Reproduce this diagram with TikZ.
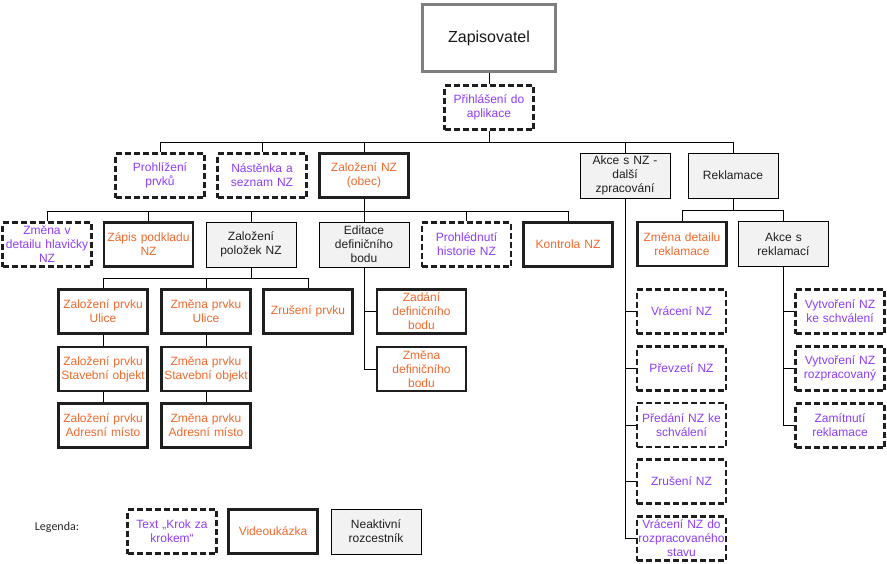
\documentclass[tikz,border=0pt]{standalone}
\usepackage{fontspec}
\setmainfont{Liberation Sans}
\newfontfamily\legfont{Carlito}
\definecolor{purp}{HTML}{8E3DF8}
\definecolor{orng}{HTML}{F0692C}
\definecolor{grayf}{HTML}{F2F2F2}
\definecolor{dashc}{HTML}{1E1E1E}
\definecolor{topc}{HTML}{7F7F7F}
\begin{document}
\begin{tikzpicture}[x=1pt,y=-1pt,
  base/.style={inner sep=0pt, minimum width=89pt, minimum height=44pt, align=center,
    text width=89pt, font=\fontsize{12}{14}\selectfont},
  txtbox/.style={base, draw=dashc, line width=2.2pt, dash pattern=on 6pt off 3pt, text=purp},
  vidbox/.style={base, draw=black!88, line width=2.2pt, text=orng},
  navbox/.style={base, draw=black, line width=1pt, fill=grayf, minimum width=90pt, minimum height=45pt, text=black!88},
  topbox/.style={inner sep=0pt, minimum width=133pt, minimum height=67pt, align=center,
    draw=topc, line width=3pt, font=\fontsize{16}{19}\selectfont, text=black!90},
  conn/.style={draw=black, line width=1pt}]
\useasboundingbox (0,0) rectangle (887,563);
\fill[white] (0,0) rectangle (887,563);

% top
\node[topbox] (zap) at (489,38) {Zapisovatel};
\node[txtbox] (prihl) at (489,107.5) {Přihlášení do\\aplikace};

% row 1
\node[txtbox] (prohl) at (160,175.5) {Prohlížení\\prvků};
\node[txtbox] (nast) at (262,175.5) {Nástěnka a\\seznam NZ};
\node[vidbox] (zalnz) at (364,175.5) {Založení NZ\\(obec)};
\node[navbox] (akce) at (625,175.5) {Akce s NZ -\\další\\zpracování};
\node[navbox] (reklam) at (733,175.5) {Reklamace};

% row 2
\node[txtbox] (zmenav) at (47,244.5) {Změna v\\detailu hlavičky\\NZ};
\node[vidbox] (zapis) at (148.5,244.5) {Zápis podkladu\\NZ};
\node[navbox] (zalpol) at (251,244.5) {Založení\\položek NZ};
\node[navbox] (editace) at (364,244.5) {Editace\\definičního\\bodu};
\node[txtbox] (prohled) at (466.5,244.5) {Prohlédnutí\\historie NZ};
\node[vidbox] (kontrola) at (568,244.5) {Kontrola NZ};
\node[vidbox] (zmdetr) at (682,244) {Změna detailu\\reklamace};
\node[navbox] (akcer) at (783.5,244) {Akce s\\reklamací};

% row 3
\node[vidbox] (zpu) at (103,311.5) {Založení prvku\\Ulice};
\node[vidbox] (zmu) at (206,311.5) {Změna prvku\\Ulice};
\node[vidbox] (zrus) at (308,311.5) {Zrušení prvku};
\node[vidbox] (zadani) at (421.5,311.5) {Zadání\\definičního\\bodu};
\node[txtbox] (vraceni) at (681.5,311.5) {Vrácení NZ};
\node[txtbox] (vytv1) at (840,311.5) {Vytvoření NZ\\ke schválení};

% row 4
\node[vidbox] (zps) at (103,369) {Založení prvku\\Stavební objekt};
\node[vidbox] (zms) at (206,369) {Změna prvku\\Stavební objekt};
\node[vidbox] (zmdb) at (421.5,369) {Změna\\definičního\\bodu};
\node[txtbox] (prevzeti) at (681.5,368.5) {Převzetí NZ};
\node[txtbox] (vytv2) at (840,368.5) {Vytvoření NZ\\rozpracovaný};

% row 5
\node[vidbox] (zpa) at (103,425.5) {Založení prvku\\Adresní místo};
\node[vidbox] (zma) at (206,425.5) {Změna prvku\\Adresní místo};
\node[txtbox] (predani) at (681.5,425) {Předání NZ ke\\schválení};
\node[txtbox] (zamit) at (840,425.5) {Zamítnutí\\reklamace};

% rows 6-7
\node[txtbox] (zrusnz) at (681.5,481.5) {Zrušení NZ};
\node[txtbox] (vracr) at (681.5,538.5) {Vrácení NZ do\\rozpracovaného\\stavu};

% legend
\node[font=\legfont\fontsize{12}{14}\selectfont, text=black!85, inner sep=0pt] (legl) at (57,527) {Legenda:};
\node[txtbox] (leg1) at (172,531.5) {Text „Krok za\\krokem“};
\node[vidbox] (leg2) at (273,531.5) {Videoukázka};
\node[navbox] (leg3) at (376,531.5) {Neaktivní\\rozcestník};

% connectors
\coordinate (b1) at (0,142);
\coordinate (b2) at (0,211);
\coordinate (b3) at (0,210);
\coordinate (b4) at (0,278);

\draw[conn] (zap.south) -- (prihl.north);
\draw[conn] (prihl.south) -- (prihl.south |- b1);
\draw[conn] (prohl.north) -- (prohl.north |- b1) -- (reklam.north |- b1) -- (reklam.north);
\draw[conn] (nast.north) -- (nast.north |- b1);
\draw[conn] (zalnz.north) -- (zalnz.north |- b1);
\draw[conn] (akce.north) -- (akce.north |- b1);

\draw[conn] (zalnz.south) -- (zalnz.south |- b2);
\draw[conn] (zmenav.north) -- (zmenav.north |- b2) -- (kontrola.north |- b2) -- (kontrola.north);
\draw[conn] (zapis.north) -- (zapis.north |- b2);
\draw[conn] (zalpol.north) -- (zalpol.north |- b2);
\draw[conn] (editace.north) -- (editace.north |- b2);
\draw[conn] (prohled.north) -- (prohled.north |- b2);

\draw[conn] (reklam.south) -- (reklam.south |- b3);
\draw[conn] (zmdetr.north) -- (zmdetr.north |- b3) -- (akcer.north |- b3) -- (akcer.north);

\draw[conn] (zalpol.south) -- (zalpol.south |- b4);
\draw[conn] (zpu.north) -- (zpu.north |- b4) -- (zrus.north |- b4) -- (zrus.north);
\draw[conn] (zmu.north) -- (zmu.north |- b4);
\draw[conn] (zpu.south) -- (zps.north);
\draw[conn] (zps.south) -- (zpa.north);
\draw[conn] (zmu.south) -- (zms.north);
\draw[conn] (zms.south) -- (zma.north);

\draw[conn] (editace.south) |- (zadani.west);
\draw[conn] (editace.south) |- (zmdb.west);

\draw[conn] (akce.south) |- (vraceni.west);
\draw[conn] (akce.south) |- (prevzeti.west);
\draw[conn] (akce.south) |- (predani.west);
\draw[conn] (akce.south) |- (zrusnz.west);
\draw[conn] (akce.south) |- (vracr.west);

\draw[conn] (akcer.south) |- (vytv1.west);
\draw[conn] (akcer.south) |- (vytv2.west);
\draw[conn] (akcer.south) |- (zamit.west);
\end{tikzpicture}
\end{document}
